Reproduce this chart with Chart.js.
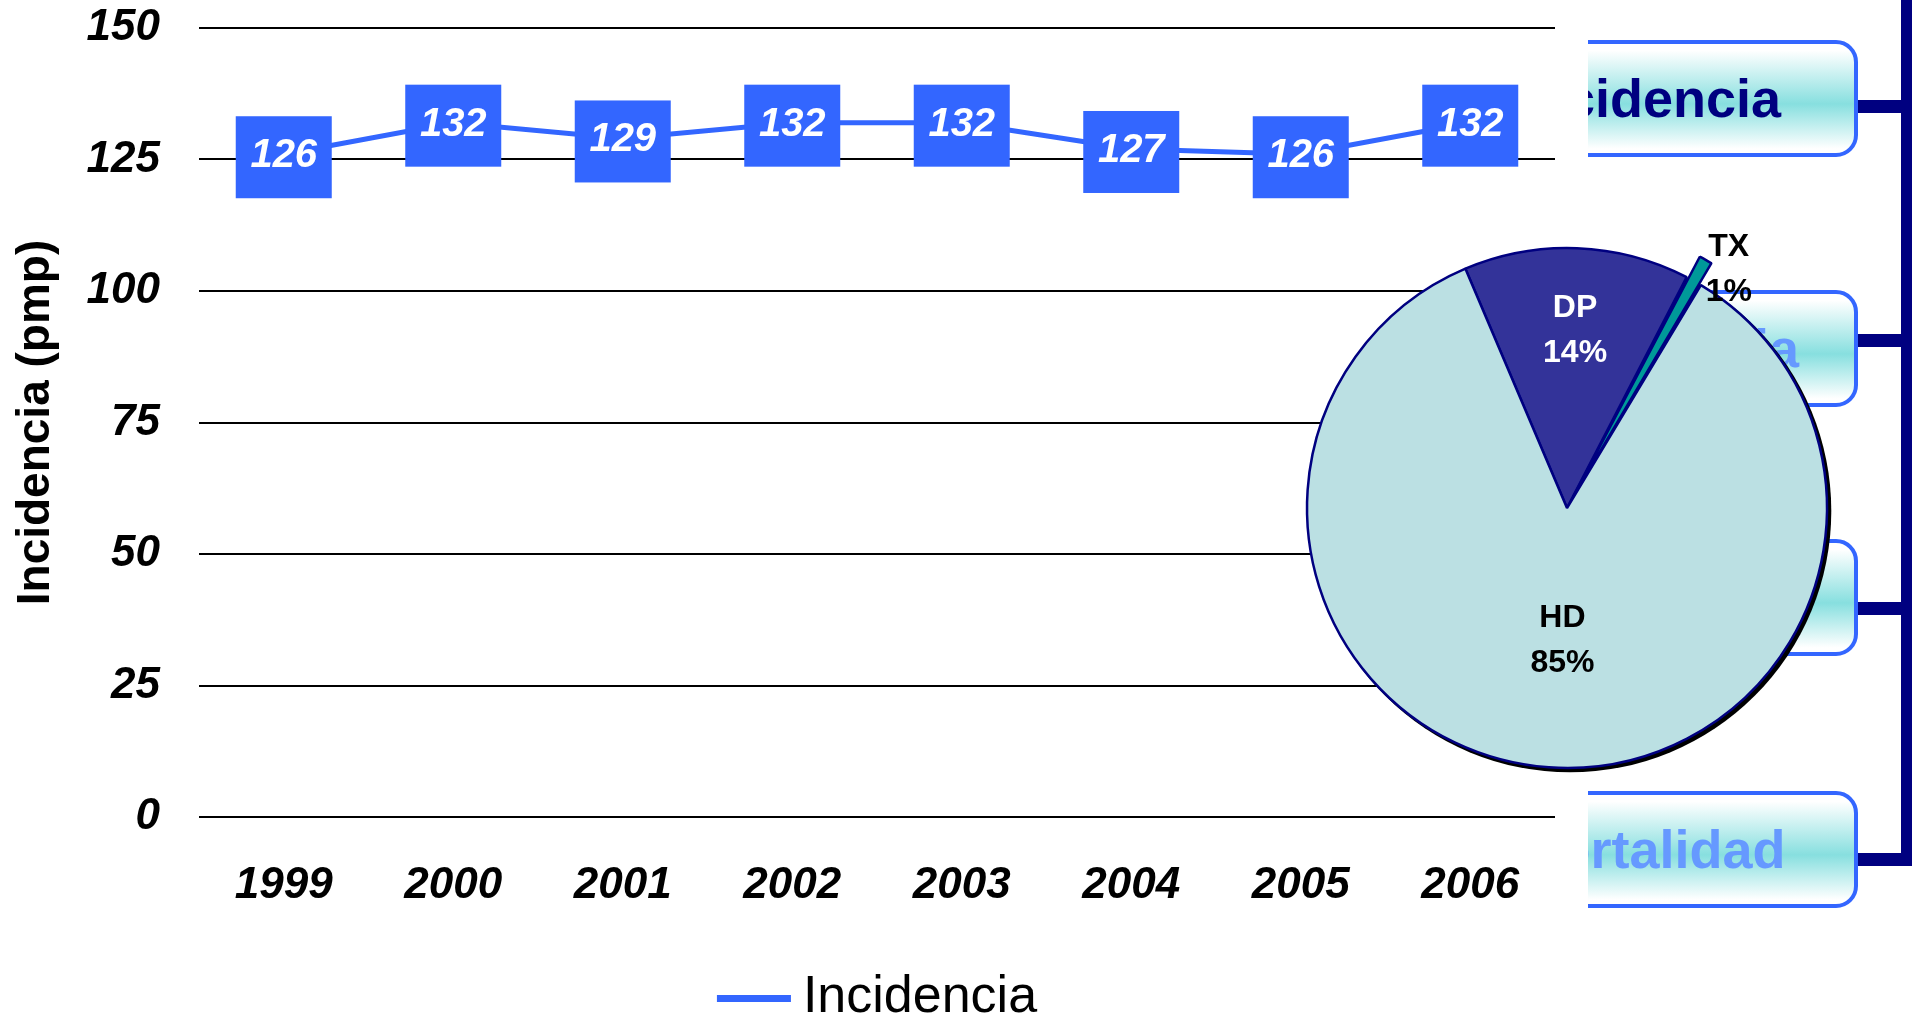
<!DOCTYPE html>
<html>
<head>
<meta charset="utf-8">
<script src="https://cdn.jsdelivr.net/npm/chart.js@4.4.0/dist/chart.umd.min.js"></script>
<style>
html,body{margin:0;padding:0;background:#fff;overflow:hidden;width:1916px;height:1018px;position:relative;}
#lineWrap{position:absolute;left:0;top:0;width:1916px;height:1018px;}
#pieWrap{position:absolute;left:1267px;top:208px;width:600px;height:600px;}
.clip{position:absolute;left:1588px;width:272px;height:117px;overflow:hidden;}
.box{position:absolute;left:-200px;width:470px;top:0;height:117px;box-sizing:border-box;border:4px solid #3366FF;border-radius:22px;
 background:linear-gradient(to bottom,#ffffff 6%,#87dfdf 55%,#ffffff 96%);}
.box span{position:absolute;left:257px;transform:translateX(-50%);top:0;height:109px;font:bold 54px "Liberation Sans",Arial,sans-serif;line-height:109px;white-space:nowrap;}
.navy{position:absolute;background:#000080;}
</style>
</head>
<body>
<div id="lineWrap"><canvas id="lineChart"></canvas></div>

<div class="clip" style="top:40px"><div class="box"><span style="color:#000080">Incidencia</span></div></div>
<div class="clip" style="top:290px"><div class="box"><span style="color:#6699FF">Prevalencia</span></div></div>
<div class="clip" style="top:539px"><div class="box"><span></span></div></div>
<div class="clip" style="top:791px"><div class="box"><span style="color:#6699FF">Mortalidad</span></div></div>
<div class="navy" style="left:1901px;top:0;width:11px;height:866px"></div>
<div class="navy" style="left:1858px;top:100px;width:50px;height:13px"></div>
<div class="navy" style="left:1858px;top:334px;width:50px;height:13px"></div>
<div class="navy" style="left:1858px;top:602px;width:50px;height:13px"></div>
<div class="navy" style="left:1858px;top:853px;width:50px;height:13px"></div>

<div id="pieWrap"><canvas id="pieChart"></canvas></div>

<script>
// ---- data ----
const years = ['1999','2000','2001','2002','2003','2004','2005','2006'];
const incidencia = [126, 132, 129, 132, 132, 127, 126, 132];
const seriesLabel = 'Incidencia';
const yTitle = 'Incidencia (pmp)';
const pieLabels = ['DP', 'TX', 'HD'];
const pieValues = [14, 1, 85];

const FONT = '"Liberation Sans", Arial, Helvetica, sans-serif';
const BLUE = '#3366FF';

// value boxes on the line points
const valueBoxes = {
  id: 'valueBoxes',
  afterDatasetsDraw(chart) {
    const ctx = chart.ctx;
    const meta = chart.getDatasetMeta(0);
    const ds = chart.data.datasets[0];
    ctx.save();
    meta.data.forEach((pt, i) => {
      const w = 96, h = 82;
      ctx.fillStyle = BLUE;
      ctx.fillRect(pt.x - w / 2, pt.y - h / 2 + 3, w, h);
      ctx.fillStyle = '#ffffff';
      ctx.font = 'italic bold 40px ' + FONT;
      ctx.textAlign = 'center';
      ctx.textBaseline = 'middle';
      ctx.fillText(String(ds.data[i]), pt.x, pt.y + 2);
    });
    ctx.restore();
  }
};

// legend drawn under the chart: short thick line + label
const lineLegend = {
  id: 'lineLegend',
  afterDraw(chart) {
    const ctx = chart.ctx, ds = chart.data.datasets[0], a = chart.chartArea;
    ctx.save();
    ctx.font = '52px ' + FONT;
    const tw = ctx.measureText(ds.label).width;
    const sw = 74, gap = 12;
    const x0 = (a.left + a.right) / 2 - (sw + gap + tw) / 2;
    const yc = a.bottom + 181;
    ctx.fillStyle = ds.borderColor;
    ctx.fillRect(x0, yc - 3, sw, 7);
    ctx.fillStyle = '#000';
    ctx.textAlign = 'left';
    ctx.textBaseline = 'middle';
    ctx.fillText(ds.label, x0 + sw + gap, yc);
    ctx.restore();
  }
};

new Chart(document.getElementById('lineChart'), {
  type: 'line',
  data: {
    labels: years,
    datasets: [{
      label: seriesLabel,
      data: incidencia,
      borderColor: BLUE,
      backgroundColor: BLUE,
      borderWidth: 5,
      pointRadius: 0,
      tension: 0,
      fill: false
    }]
  },
  options: {
    responsive: true,
    maintainAspectRatio: false,
    animation: false,
    devicePixelRatio: 1,
    layout: { padding: { top: 28, right: 361, bottom: 108, left: 0 } },
    scales: {
      x: {
        type: 'category',
        offset: true,
        afterFit: (scale) => { scale.height = 93; scale.paddingLeft = 0; scale.paddingRight = 0; },
        grid: { display: false, drawTicks: false },
        border: { display: false },
        ticks: {
          font: { family: FONT, size: 44, style: 'italic', weight: 'bold' },
          color: '#000',
          padding: 42,
          maxRotation: 0,
          autoSkip: false
        }
      },
      y: {
        min: 0,
        max: 150,
        afterFit: (scale) => { scale.width = 199; scale.paddingTop = 0; scale.paddingBottom = 0; },
        grid: { color: '#000', lineWidth: 2, drawTicks: false },
        border: { display: false },
        ticks: {
          stepSize: 25,
          font: { family: FONT, size: 44, style: 'italic', weight: 'bold' },
          color: '#000',
          padding: 39
        },
        title: {
          display: true,
          text: yTitle,
          color: '#000',
          font: { family: FONT, size: 46, weight: 'bold' },
          padding: { top: 9, bottom: 0 }
        }
      }
    },
    plugins: {
      legend: { display: false },
      tooltip: { enabled: false }
    }
  },
  plugins: [valueBoxes, lineLegend]
});

// ---- pie ----
const pieShadow = {
  id: 'pieShadow',
  beforeDatasetsDraw(chart) {
    const arc = chart.getDatasetMeta(0).data[0];
    if (!arc) return;
    const ctx = chart.ctx;
    ctx.save();
    ctx.fillStyle = '#000';
    ctx.beginPath();
    ctx.arc(arc.x + 3, arc.y + 3, arc.outerRadius + 1.3, 0, Math.PI * 2);
    ctx.fill();
    ctx.restore();
  }
};

const pieText = {
  id: 'pieText',
  afterDatasetsDraw(chart) {
    const ctx = chart.ctx;
    const meta = chart.getDatasetMeta(0);
    const radFrac = [0.686, 1.109, 0.508];
    const angShift = [0.007, 0.086, -0.035];
    const colors = ['#ffffff', '#000000', '#000000'];
    const total = chart.data.datasets[0].data.reduce((a, b) => a + b, 0);
    ctx.save();
    ctx.font = 'bold 32px ' + FONT;
    ctx.textAlign = 'center';
    ctx.textBaseline = 'middle';
    meta.data.forEach((arc, i) => {
      const mid = (arc.startAngle + arc.endAngle) / 2 + angShift[i];
      const r = arc.outerRadius * radFrac[i];
      const lx = arc.x + Math.cos(mid) * r;
      const ly = arc.y + Math.sin(mid) * r;
      const pct = Math.round(chart.data.datasets[0].data[i] / total * 100) + '%';
      ctx.fillStyle = colors[i];
      ctx.fillText(chart.data.labels[i], lx, ly - 22);
      ctx.fillText(pct, lx, ly + 23);
    });
    ctx.restore();
  }
};

new Chart(document.getElementById('pieChart'), {
  type: 'pie',
  data: {
    labels: pieLabels,
    datasets: [{
      data: pieValues,
      backgroundColor: ['#333399', '#009999', '#BBE0E3'],
      borderColor: '#000080',
      borderWidth: 2.5,
      offset: (c) => (c.chart.data.labels[c.dataIndex] === 'TX' ? 50 : 0)
    }]
  },
  options: {
    responsive: true,
    maintainAspectRatio: false,
    animation: false,
    devicePixelRatio: 1,
    rotation: -23,
    radius: 260,
    layout: { padding: 0 },
    plugins: { legend: { display: false }, tooltip: { enabled: false } }
  },
  plugins: [pieShadow, pieText]
});
</script>
</body>
</html>
